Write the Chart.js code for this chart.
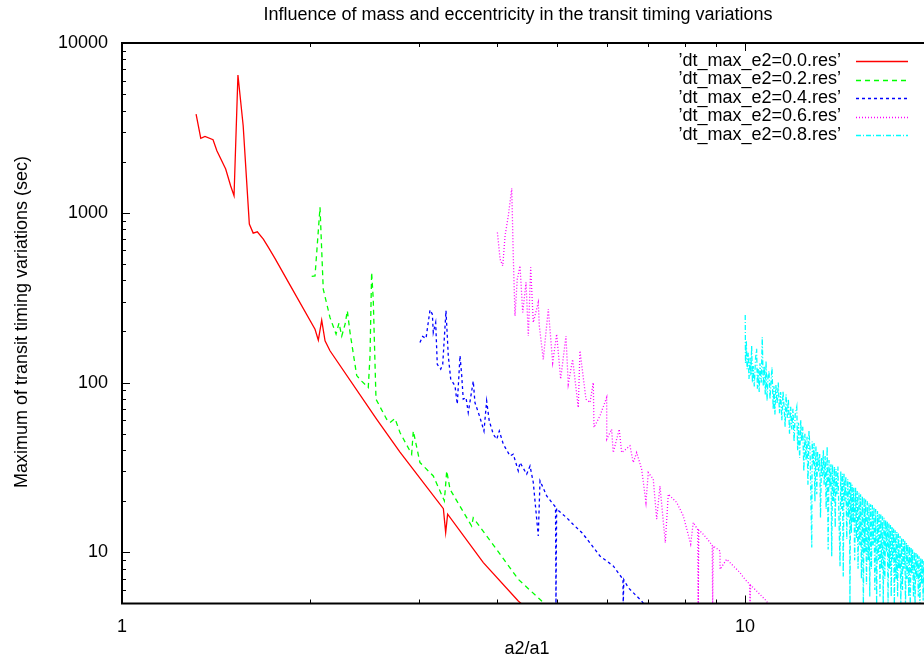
<!DOCTYPE html>
<html>
<head>
<meta charset="utf-8">
<script src="https://cdn.jsdelivr.net/npm/chart.js@4.4.1/dist/chart.umd.min.js"></script>
<style>
  html, body { margin: 0; padding: 0; background: #fff; overflow: hidden; }
  #wrap { position: relative; width: 944px; height: 664px; }
</style>
</head>
<body>
<div id="wrap"><canvas id="ttvChart"></canvas></div>
<script>
// series: [a2/a1, max TTV (sec)]
const e00 = [
    [1.315, 3816], [1.338, 2744], [1.359, 2819], [1.400, 2693], [1.420, 2319], [1.467, 1809],
    [1.494, 1443], [1.513, 1260], [1.535, 6477], [1.565, 3256], [1.601, 858], [1.624, 759],
    [1.649, 773], [1.686, 700], [1.718, 625], [1.760, 539], [1.861, 375], [2.041, 206],
    [2.066, 178], [2.092, 233], [2.118, 176], [2.157, 154], [2.564, 60.8], [2.794, 39.0],
    [3.280, 18.1], [3.308, 13.1], [3.332, 16.8], [3.802, 8.71], [4.326, 5.17], [4.40, 4.9]
];
const e02 = [
    [2.016, 422], [2.041, 425], [2.079, 1076], [2.104, 355], [2.157, 242], [2.206, 193],
    [2.230, 224], [2.253, 188], [2.281, 221], [2.300, 265], [2.323, 197], [2.381, 110],
    [2.425, 102], [2.485, 93.6], [2.501, 144], [2.516, 446], [2.531, 310], [2.557, 79.8],
    [2.660, 60.8], [2.693, 58.2], [2.743, 61.4], [2.794, 50.8], [2.917, 37.9], [2.935, 51.9],
    [3.008, 33.8], [3.160, 28.2], [3.292, 20.1], [3.321, 30.2], [3.362, 23.5], [3.641, 14.3],
    [3.663, 16.0], [3.995, 10.4], [4.326, 6.94], [4.718, 5.17], [4.80, 4.9]
];
const e04 = [
    [3.008, 172], [3.038, 187], [3.076, 182], [3.122, 268], [3.149, 253], [3.160, 197],
    [3.188, 226], [3.207, 128], [3.248, 120], [3.272, 128], [3.312, 265], [3.340, 144],
    [3.370, 105], [3.424, 95.6], [3.453, 74.6], [3.488, 144], [3.510, 110], [3.530, 79.8],
    [3.566, 81.7], [3.596, 66.6], [3.663, 102], [3.686, 76.3], [3.755, 62.3], [3.811, 51.9],
    [3.849, 78.0], [3.886, 59.5], [3.945, 49.6], [3.995, 46.4], [4.033, 51.9], [4.093, 43.4],
    [4.196, 37.0], [4.247, 37.9], [4.326, 30.2], [4.354, 33.8], [4.463, 28.9], [4.518, 32.3],
    [4.573, 25.8], [4.658, 12.5], [4.688, 26.4], [4.805, 21.5], [4.923, 19.2], [4.965, 18.5],
    [4.973, 4.8], [4.985, 18.2], [4.997, 17.9], [5.173, 16.0], [5.301, 14.6], [5.469, 13.1],
    [5.556, 12.2], [5.851, 9.52], [6.145, 8.32], [6.370, 6.94], [6.377, 4.9], [6.39, 6.9],
    [6.496, 6.20], [6.659, 5.66], [6.826, 5.17], [6.9, 4.9]
];
const e06 = [
    [4.005, 766], [4.045, 533], [4.085, 487], [4.120, 732], [4.170, 960], [4.223, 1393],
    [4.247, 558], [4.274, 247], [4.310, 407], [4.354, 487], [4.398, 259], [4.452, 389],
    [4.490, 188], [4.529, 477], [4.573, 226], [4.658, 296], [4.676, 216], [4.745, 137],
    [4.834, 271], [4.913, 131], [4.986, 193], [5.060, 105], [5.160, 188], [5.204, 97.9],
    [5.289, 137], [5.400, 71.3], [5.434, 154], [5.556, 79.8], [5.639, 76.3], [5.708, 100],
    [5.723, 54.4], [5.851, 63.7], [5.998, 81.7], [6.00, 46.4], [6.109, 53.1], [6.145, 38.7],
    [6.283, 53.1], [6.340, 38.7], [6.537, 42.4], [6.617, 33.8], [6.701, 38.7], [6.826, 30.9],
    [6.935, 19.7], [6.995, 29.5], [7.125, 27.0], [7.216, 15.7], [7.304, 24.6], [7.449, 11.4],
    [7.532, 22.0], [7.769, 19.7], [7.962, 16.4], [8.182, 11.2], [8.261, 15.0], [8.40, 13.6],
    [8.414, 4.9], [8.43, 13.5], [8.521, 13.1], [8.70, 12.0], [8.86, 11.0], [8.874, 4.9],
    [8.893, 10.9], [9.119, 10.2], [9.12, 7.95], [9.346, 9.11], [9.816, 7.60], [10.0, 6.94],
    [10.17, 6.5], [10.19, 4.9], [10.21, 6.4], [10.31, 6.20], [10.57, 5.66], [10.83, 5.17],
    [10.9, 4.9]
];
const e08 = [
    [10.01, 250], [10.02, 130], [10.05, 175], [10.08, 120], [10.12, 150], [10.15, 105],
    [10.19, 140], [10.22, 110], [10.25, 165], [10.28, 100], [10.31, 125], [10.35, 95],
    [10.40, 140], [10.44, 158], [10.47, 92], [10.50, 120], [10.54, 88], [10.57, 130],
    [10.62, 100], [10.66, 185], [10.70, 95], [10.74, 125], [10.78, 85], [10.81, 134],
    [10.85, 78], [10.89, 110], [10.93, 117], [10.97, 80], [11.01, 100], [11.05, 123],
    [11.10, 70], [11.13, 95], [11.17, 65], [11.21, 97], [11.26, 75], [11.31, 100],
    [11.36, 66], [11.41, 88], [11.46, 60], [11.51, 89], [11.56, 70], [11.60, 55],
    [11.64, 85], [11.69, 62], [11.74, 80], [11.79, 50], [11.84, 72], [11.89, 53],
    [11.94, 70], [11.99, 45], [12.04, 65], [12.11, 72], [12.15, 40], [12.19, 58],
    [12.24, 36], [12.29, 60], [12.33, 45], [12.38, 55], [12.43, 30], [12.48, 50],
    [12.53, 35], [12.58, 48], [12.62, 25], [12.67, 52], [12.72, 40], [12.80, 10.7],
    [12.82, 45], [12.87, 33], [12.91, 44], [12.95, 20], [13.00, 42], [13.04, 22],
    [13.08, 39], [13.13, 30], [13.18, 38], [13.22, 16], [13.27, 36], [13.31, 28],
    [13.36, 40], [13.40, 25], [13.45, 37], [13.50, 18], [13.55, 42], [13.60, 10.4],
    [13.64, 35], [13.69, 24], [13.74, 33], [13.78, 9.5], [13.82, 33], [13.87, 20],
    [13.92, 32], [13.96, 14], [14.00, 31], [14.05, 22], [14.10, 32], [14.16, 15],
    [14.21, 8.3], [14.25, 30], [14.30, 18], [14.34, 29], [14.38, 7.2], [14.42, 29],
    [14.47, 20], [14.52, 28], [14.57, 12], [14.62, 27], [14.67, 16], [14.71, 26],
    [14.74, 4.9], [14.78, 26], [14.82, 13], [14.86, 25], [14.91, 15], [14.95, 24],
    [15.00, 9], [15.05, 24], [15.10, 12], [15.14, 23], [15.19, 8], [15.24, 22.5],
    [15.29, 11], [15.33, 22], [15.38, 7], [15.43, 21.5], [15.49, 4.9], [15.53, 21],
    [15.58, 10], [15.62, 20.5], [15.67, 6.5], [15.72, 20], [15.77, 9], [15.82, 19.5],
    [15.86, 5.5], [15.91, 19.2], [15.96, 8], [16.01, 19], [16.06, 11], [16.11, 18.5],
    [16.16, 6], [16.21, 18], [16.27, 4.9], [16.32, 17.5], [16.37, 9], [16.42, 17],
    [16.47, 5.5], [16.52, 16.7], [16.57, 8], [16.62, 16.3], [16.67, 4.9], [16.72, 16],
    [16.77, 7], [16.82, 15.5], [16.87, 10], [16.92, 15.2], [16.97, 4.9], [17.02, 14.8],
    [17.07, 8], [17.12, 14.5], [17.17, 5.5], [17.22, 14.2], [17.27, 9], [17.32, 13.8],
    [17.37, 4.9], [17.42, 13.5], [17.48, 7], [17.53, 13.2], [17.58, 5.5], [17.63, 12.9],
    [17.68, 8], [17.74, 12.5], [17.79, 4.9], [17.84, 12.2], [17.90, 6], [17.95, 12],
    [18.00, 8], [18.05, 11.7], [18.10, 4.9], [18.16, 11.4], [18.21, 7], [18.26, 11.1],
    [18.32, 5.5], [18.37, 10.9], [18.42, 4.9], [18.48, 10.6], [18.53, 7.5], [18.58, 10.4],
    [18.64, 5.5], [18.70, 10.1], [18.75, 4.9], [18.81, 9.9], [18.86, 7], [18.92, 9.7],
    [18.98, 5.5], [19.03, 9.5], [19.09, 4.9], [19.15, 9.3], [19.20, 6.5], [19.26, 9.1],
    [19.32, 5.2], [19.37, 8.9], [19.43, 4.9], [19.49, 8.7], [19.55, 6.5], [19.61, 8.5],
    [19.67, 5], [19.73, 8.4], [19.79, 4.9], [19.85, 8.2], [19.91, 6], [19.97, 8.1]
];

const seriesNames = ['’dt_max_e2=0.0.res’', '’dt_max_e2=0.2.res’', '’dt_max_e2=0.4.res’',
    '’dt_max_e2=0.6.res’', '’dt_max_e2=0.8.res’'];
const xMajorTicks = [1, 10];
const xTickLabels = ['1', '10'];
const xMinorTicks = [2, 3, 4, 5, 6, 7, 8, 9, 20];
const yMajorTicks = [10, 100, 1000, 10000];
const yTickLabels = ['10', '100', '1000', '10000'];
const yMinorTicks = [6, 7, 8, 9, 20, 30, 40, 50, 60, 70, 80, 90, 200, 300, 400, 500, 600, 700, 800, 900,
    2000, 3000, 4000, 5000, 6000, 7000, 8000, 9000];

const lineStyles = [
    { color: '#ff0000', dash: [] },
    { color: '#00ff00', dash: [5, 4] },
    { color: '#0000ff', dash: [3, 3] },
    { color: '#ff00ff', dash: [1, 2] },
    { color: '#00ffff', dash: [5, 2, 1, 2] },
];

const FONT = '18px "Liberation Sans", Arial, Helvetica, sans-serif';

// gnuplot-like frame: border, inward ticks on all 4 sides, labels, key
const gnuplotFrame = {
    id: 'gnuplotFrame',
    afterDatasetsDraw(chart) {
        const { ctx, chartArea: a, scales: { x, y } } = chart;
        ctx.save();
        ctx.strokeStyle = '#000';
        ctx.lineWidth = 1;
        ctx.setLineDash([]);
        const tickX = (v, len) => {
            const px = Math.round(x.getPixelForValue(v)) + 0.5;
            ctx.beginPath();
            ctx.moveTo(px, a.bottom); ctx.lineTo(px, a.bottom - len);
            ctx.moveTo(px, a.top); ctx.lineTo(px, a.top + len);
            ctx.stroke();
        };
        const tickY = (v, len) => {
            const py = Math.round(y.getPixelForValue(v)) + 0.5;
            ctx.beginPath();
            ctx.moveTo(a.left, py); ctx.lineTo(a.left + len, py);
            ctx.moveTo(a.right, py); ctx.lineTo(a.right - len, py);
            ctx.stroke();
        };
        xMajorTicks.forEach(v => tickX(v, 8));
        xMinorTicks.forEach(v => tickX(v, 4));
        yMajorTicks.forEach(v => tickY(v, 8));
        yMinorTicks.forEach(v => tickY(v, 4));

        ctx.lineWidth = 2;
        ctx.strokeRect(a.left, a.top, a.right - a.left, a.bottom - a.top);

        ctx.fillStyle = '#000';
        ctx.font = FONT;
        ctx.textBaseline = 'middle';
        ctx.textAlign = 'right';
        yMajorTicks.forEach((v, i) => ctx.fillText(yTickLabels[i], 108, y.getPixelForValue(v)));
        ctx.textAlign = 'center';
        xMajorTicks.forEach((v, i) => ctx.fillText(xTickLabels[i], x.getPixelForValue(v), 627));

        ctx.fillText('Influence of mass and eccentricity in the transit timing variations', 518, 15);
        ctx.fillText('a2/a1', 527, 649);
        ctx.save();
        ctx.translate(22, 322);
        ctx.rotate(-Math.PI / 2);
        ctx.fillText('Maximum of transit timing variations (sec)', 0, 0);
        ctx.restore();

        // key
        seriesNames.forEach((name, i) => {
            const ry = 61 + i * 18.5;
            ctx.textAlign = 'right';
            ctx.fillStyle = '#000';
            ctx.fillText(name, 841, ry);
            ctx.strokeStyle = lineStyles[i].color;
            ctx.lineWidth = 1.3;
            ctx.setLineDash(lineStyles[i].dash);
            ctx.beginPath();
            ctx.moveTo(856, Math.round(ry) + 0.5);
            ctx.lineTo(908, Math.round(ry) + 0.5);
            ctx.stroke();
        });
        ctx.restore();
    }
};

const canvas = document.querySelector('#ttvChart');
const ttvChart = new Chart(canvas, {
    type: 'line',
    data: {
        datasets: [e00, e02, e04, e06, e08].map((pts, i) => ({
            label: seriesNames[i],
            data: pts,
            borderColor: lineStyles[i].color,
            borderDash: lineStyles[i].dash,
            borderWidth: 1.3,
            pointRadius: 0,
            tension: 0,
            fill: false,
        })),
    },
    options: {
        responsive: true,
        maintainAspectRatio: false,
        animation: false,
        devicePixelRatio: 1,
        layout: { padding: { left: 122, top: 43, right: 11.5, bottom: 60.5 } },
        plugins: {
            legend: { display: false },
            title: { display: false },
            tooltip: { enabled: false },
        },
        scales: {
            x: { type: 'logarithmic', min: 1, max: 20, display: false },
            y: { type: 'logarithmic', min: 5, max: 10000, display: false },
        },
    },
    plugins: [gnuplotFrame],
});
</script>
</body>
</html>
